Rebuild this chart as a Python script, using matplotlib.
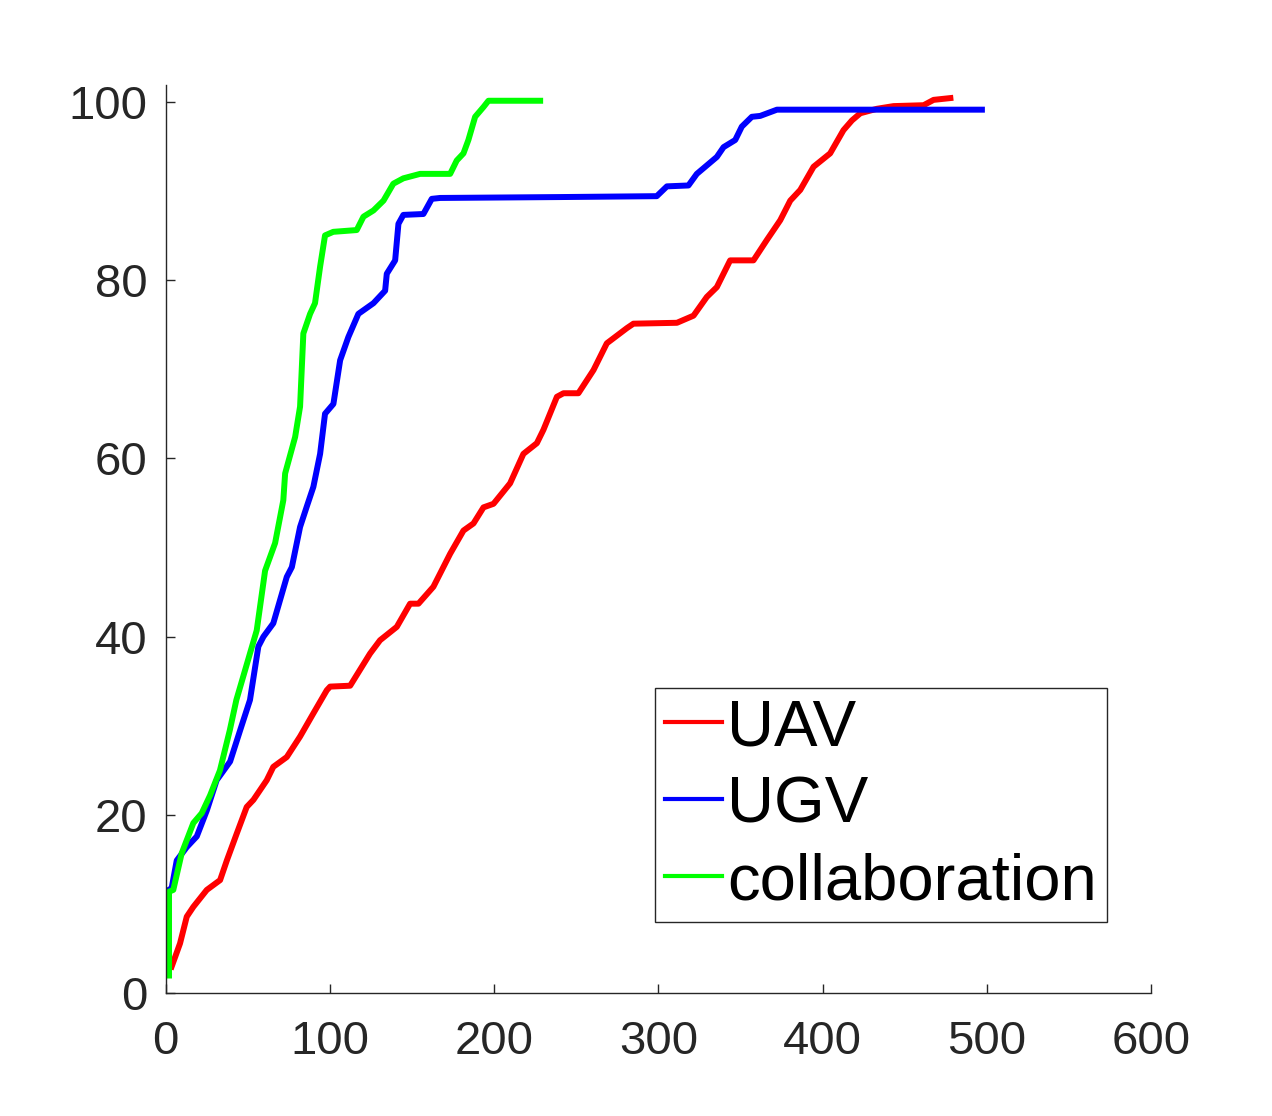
import numpy as np
import matplotlib
matplotlib.use("Agg")
import matplotlib.pyplot as plt

# UAV (red)
uav_x = [3.6, 8.7, 12.8, 16.8, 25, 33.1, 37.2, 43.2, 49.3, 53.4, 61.5, 65.5, 73.7, 81.8,
         89.9, 98.1, 100.1, 112.3, 124.4, 130.5, 140.7, 148.8, 153.9, 163, 173.2, 181.3,
         187.4, 193.5, 199.6, 209.7, 217.8, 226, 230, 238.2, 242.2, 251.3, 260.5, 268.6,
         280.8, 284.8, 311.3, 321.4, 329.5, 335.6, 343.7, 357.9, 366.1, 374.2, 380.3,
         386.4, 394.5, 404.6, 412.7, 417.9, 423, 433.1, 443.2, 461.5, 467.6, 477.8]
uav_y = [3.0, 5.6, 8.6, 9.7, 11.6, 12.7, 14.9, 17.9, 20.9, 21.7, 23.9, 25.4, 26.5, 28.8,
         31.4, 34.0, 34.4, 34.5, 38.1, 39.6, 41.1, 43.7, 43.7, 45.6, 49.3, 51.9,
         52.7, 54.5, 54.9, 57.2, 60.5, 61.7, 63.2, 66.9, 67.3, 67.3, 69.9, 72.9,
         74.6, 75.1, 75.2, 76.0, 78.1, 79.2, 82.2, 82.2, 84.5, 86.7, 88.9,
         90.1, 92.7, 94.2, 96.8, 97.9, 98.7, 99.2, 99.5, 99.6, 100.2, 100.4]

# UGV (blue)
ugv_x = [0, 0, 3.6, 6.7, 12.8, 18.9, 25, 31, 39.2, 45.3, 51.3, 56.4, 59.5, 65.5, 73.7,
         76.8, 81.8, 85.9, 89.9, 94, 97, 102.1, 106.2, 111.2, 117.3, 126.5, 133.6, 134.6,
         139.7, 141.7, 144.7, 156.9, 162, 167.1, 240, 299, 305.2, 318.3, 323.4, 335.6,
         339.7, 346.8, 350.8, 356.9, 362, 372.2, 497]
ugv_y = [2.6, 11.4, 11.8, 14.9, 16.4, 17.6, 20.5, 23.9, 26, 29.5, 32.9, 38.9, 40, 41.5, 46.7,
         47.8, 52.3, 54.6, 56.8, 60.5, 65, 66.1, 71, 73.6, 76.2, 77.4, 78.8, 80.7,
         82.2, 86.3, 87.3, 87.4, 89.1, 89.2, 89.3, 89.4, 90.5, 90.6, 91.9, 93.8,
         94.9, 95.7, 97.2, 98.3, 98.4, 99.1, 99.1]

# collaboration (green)
col_x = [2, 2, 4.6, 9.7, 16.8, 21.9, 27, 33, 39, 43, 55.4, 60.5, 66.6, 71.6, 72.7, 78.8,
         81.8, 83.8, 87.9, 90.9, 94, 97, 102, 116.3, 120.4, 126.5, 132.6, 138.6, 144.7,
         154.9, 173.2, 177.2, 181.3, 184.3, 188.4, 193.5, 196.5, 228]
col_y = [2, 11.4, 11.6, 15.7, 19.1, 20.2, 22.2, 25, 29.5, 32.9, 40.7, 47.4, 50.5, 55.3, 58.3,
         62.4, 65.8, 74, 76.2, 77.4, 81.5, 85, 85.4, 85.6, 87.1, 87.8, 88.9, 90.8, 91.4,
         91.9, 91.9, 93.4, 94.2, 95.7, 98.3, 99.4, 100.1, 100.1]

labels = ["UAV", "UGV", "collaboration"]

plt.rcParams['font.family'] = ['Liberation Sans', 'DejaVu Sans']
axcolor = '#262626'

fig = plt.figure(figsize=(12.72, 11.16), dpi=100)
ax = fig.add_axes([0.1303, 0.1099, 0.7746, 0.8142])

ax.plot(uav_x, uav_y, color=(1, 0, 0), lw=4.3, label=labels[0])
ax.plot(ugv_x, ugv_y, color=(0, 0, 1), lw=4.3, label=labels[1])
ax.plot(col_x, col_y, color=(0, 1, 0), lw=4.3, label=labels[2])

ax.set_xlim(0, 600)
ax.set_ylim(0, 101.9)
ax.set_xticks(np.arange(0, 601, 100))
ax.set_yticks(np.arange(0, 101, 20))

for s in ['top', 'right']:
    ax.spines[s].set_visible(False)
for s in ['left', 'bottom']:
    ax.spines[s].set_color(axcolor)
    ax.spines[s].set_linewidth(1.0)

ax.tick_params(axis='both', direction='in', length=6.5, width=1.0, color=axcolor,
               labelcolor=axcolor, labelsize=34)
ax.tick_params(axis='x', pad=19)
ax.tick_params(axis='y', pad=13)

leg = ax.legend(loc='upper left', bbox_to_anchor=(0.4966, 0.3357), fontsize=47,
                frameon=True, fancybox=False, edgecolor=axcolor, framealpha=1,
                handlelength=0.88, handletextpad=0.08, labelspacing=0.26,
                borderpad=0.15, borderaxespad=0)
leg.get_frame().set_linewidth(1.0)
for line in leg.get_lines():
    line.set_linewidth(3.0)

fig.savefig("out.png", dpi=100)
